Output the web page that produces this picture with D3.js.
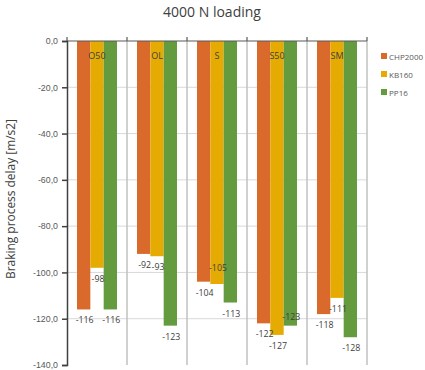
<!DOCTYPE html>
<html lang="en">
  <head>
    <meta charset="UTF-8" />
    <title>4000 N loading</title>
    <style>
      body { margin: 0; background: #fff; }
      svg { font-family: "Open Sans", "Liberation Sans", sans-serif; }
      .tick text { fill: #595959; font-size: 8.8px; }
      .val { fill: #404040; font-size: 8.8px; text-anchor: middle; }
    </style>
  </head>
  <body>
    <svg id="chart" width="425" height="370"></svg>
  </body>
  <script src="https://cdn.jsdelivr.net/npm/d3@7"></script>
  <script>
    // data
    const categories = ["O50", "OL", "S", "S50", "SM"];
    const seriesNames = ["CHP2000", "KB160", "PP16"];
    const chp2000 = [-116, -92, -104, -122, -118];
    const kb160 = [-98, -93, -105, -127, -111];
    const pp16 = [-116, -123, -113, -123, -128];
    const yTicks = [0, -20, -40, -60, -80, -100, -120, -140];

    // label nudges (px) where labels were moved to avoid overlap
    const labelShift = [
      [0, 0, 0],
      [0, 0, 0],
      [0, -27, 0],
      [0, 0, -20],
      [0, 0, 0]
    ];

    const colors = ["#d96a2b", "#e5ab03", "#659b3f"];
    const values = [chp2000, kb160, pp16];

    const svg = d3.select("#chart");
    const plotLeft = 67, plotRight = 367, plotTop = 41, plotBottom = 365;

    let y = d3.scaleLinear().domain([-140, 0]).range([plotBottom, plotTop]);
    let x = d3.scaleBand().domain(categories).range([plotLeft, plotRight])
      .paddingInner(1 / 3).paddingOuter(1 / 6);
    let xs = d3.scaleBand().domain(seriesNames).range([0, x.bandwidth()]);

    // horizontal gridlines
    svg.append("g").selectAll("line").data(yTicks.slice(1, -1)).join("line")
      .attr("x1", plotLeft).attr("x2", plotRight)
      .attr("y1", d => y(d)).attr("y2", d => y(d))
      .attr("stroke", "#d9d9d9").attr("stroke-width", 1);

    // vertical category separators
    let bounds = categories.map(c => x(c) - x.step() * x.paddingInner() / 2).concat([plotRight]);
    svg.append("g").selectAll("line").data(bounds.slice(1)).join("line")
      .attr("x1", d => d).attr("x2", d => d)
      .attr("y1", plotTop).attr("y2", plotBottom)
      .attr("stroke", "#c0c0c0").attr("stroke-width", 1.5);

    // flatten into one list of cells
    let cells = [];
    categories.forEach((c, i) => {
      seriesNames.forEach((s, j) => {
        cells.push({ cat: c, series: s, j: j, value: values[j][i], shift: labelShift[i][j] });
      });
    });

    // bars
    svg.append("g").selectAll("rect").data(cells).join("rect")
      .attr("x", d => x(d.cat) + xs(d.series))
      .attr("y", y(0))
      .attr("width", xs.bandwidth())
      .attr("height", d => y(d.value) - y(0))
      .attr("fill", d => colors[d.j]);

    // value labels
    svg.append("g").selectAll("text").data(cells).join("text")
      .attr("class", "val")
      .attr("x", d => x(d.cat) + xs(d.series) + xs.bandwidth() / 2 + 1)
      .attr("y", d => y(d.value) + 14 + d.shift)
      .text(d => d.value);

    // category labels at top of each group
    svg.append("g").selectAll("text").data(categories).join("text")
      .attr("x", d => x(d) + x.bandwidth() / 2)
      .attr("y", 59)
      .attr("text-anchor", "middle")
      .attr("fill", "#404040")
      .attr("font-size", 9)
      .text(d => d);

    // top axis line with ticks
    svg.append("line").attr("x1", plotLeft).attr("x2", plotRight)
      .attr("y1", plotTop).attr("y2", plotTop)
      .attr("stroke", "#595959").attr("stroke-width", 1.2);
    svg.append("g").selectAll("line").data(bounds).join("line")
      .attr("x1", d => d).attr("x2", d => d)
      .attr("y1", plotTop - 4).attr("y2", plotTop)
      .attr("stroke", "#595959").attr("stroke-width", 1.2);

    // left axis
    let yAxis = svg.append("g")
      .attr("transform", "translate(" + plotLeft + ",0)")
      .call(d3.axisLeft(y).tickValues(yTicks).tickSize(5).tickPadding(4)
        .tickFormat(d => d3.format(".1f")(d).replace("−", "-").replace(".", ",")));
    yAxis.select(".domain").attr("stroke", "#404040").attr("stroke-width", 1.5);
    yAxis.selectAll(".tick line").attr("stroke", "#404040").attr("stroke-width", 1.5);

    // title
    svg.append("text")
      .attr("x", 212).attr("y", 17)
      .attr("text-anchor", "middle")
      .attr("fill", "#404040")
      .attr("font-size", 14)
      .text("4000 N loading");

    // y axis title
    svg.append("text")
      .attr("transform", "translate(15,199) rotate(-90)")
      .attr("text-anchor", "middle")
      .attr("fill", "#404040")
      .attr("font-size", 13.5)
      .attr("textLength", 160)
      .attr("lengthAdjust", "spacingAndGlyphs")
      .text("Braking process delay [m/s2]");

    // legend
    let legend = svg.append("g").attr("transform", "translate(381,0)");
    seriesNames.forEach((s, j) => {
      let ly = 57 + j * 18;
      legend.append("rect").attr("x", 0).attr("y", ly - 4)
        .attr("width", 6).attr("height", 6).attr("fill", colors[j]);
      legend.append("text").attr("x", 8).attr("y", ly + 2.5)
        .attr("fill", "#595959").attr("font-size", 8).text(s);
    });
  </script>
</html>
